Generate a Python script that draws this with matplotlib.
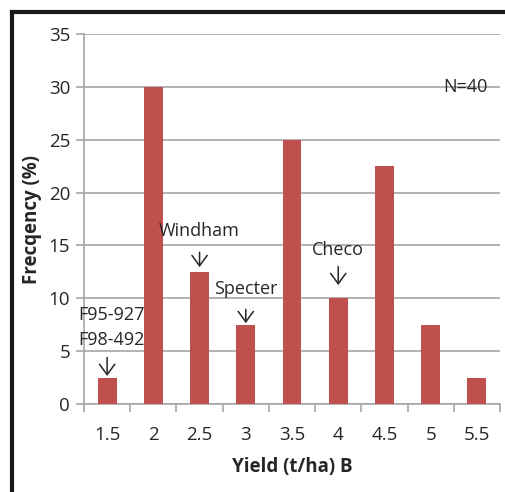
import matplotlib.pyplot as plt
from matplotlib.lines import Line2D

categories = ['1.5', '2', '2.5', '3', '3.5', '4', '4.5', '5', '5.5']
frequency = [2.5, 30, 12.5, 7.5, 25, 10, 22.5, 7.5, 2.5]

# cultivar labels placed above their bars
cultivar_bar = [0, 2, 3, 5]
cultivar_names = ['F95-927\nF98-492', 'Windham', 'Specter', 'Checo']

# label layout in data units: text centre, arrow top, arrow bottom
label_y = [7.25, 16.35, 10.9, 14.55]
arrow_top = [4.4, 14.35, 8.95, 13.0]
arrow_bot = [2.65, 12.95, 7.65, 11.25]
label_dx = [0.09, 0, 0, 0]

plt.rcParams['font.family'] = ['Open Sans', 'DejaVu Sans']
txt = '#262626'

fig = plt.figure(figsize=(5.06, 4.92), dpi=100)
ax = fig.add_axes([84 / 506, 1 - 404 / 492, 416 / 506, 370 / 492])

x = range(len(categories))
ax.bar(x, frequency, width=0.41, color='#C0504D', zorder=3)

ax.set_xlim(-0.5, len(categories) - 0.5)
ax.set_ylim(0, 35)
ax.set_yticks(range(0, 36, 5))
ax.set_xticks(list(x))
ax.set_xticklabels(categories)
ax.set_xticks([i - 0.5 for i in range(len(categories) + 1)], minor=True)

ax.grid(axis='y', color='#A6A6A6', linewidth=1.2, zorder=0)
for s in ['top', 'right']:
    ax.spines[s].set_visible(False)
for s in ['left', 'bottom']:
    ax.spines[s].set_color('#A6A6A6')
    ax.spines[s].set_linewidth(1.2)
ax.tick_params(axis='x', which='major', length=0, labelsize=13.5, pad=16, colors=txt)
ax.tick_params(axis='x', which='minor', length=6, width=1.2, color='#A6A6A6')
ax.tick_params(axis='y', length=6, width=1.2, color='#A6A6A6', labelsize=13.5,
               labelcolor=txt, pad=4)

ax.set_xlabel('Yield (t/ha) B', fontsize=13.5, fontweight='bold', color=txt, labelpad=9)
ax.set_ylabel('Frecqency (%)', fontsize=13.5, fontweight='bold', color=txt, labelpad=5)

for i, name, ty, a0, a1, dx in zip(cultivar_bar, cultivar_names, label_y,
                                    arrow_top, arrow_bot, label_dx):
    ax.annotate('', xy=(i, a1), xytext=(i, a0),
                arrowprops=dict(arrowstyle='->,head_length=0.75,head_width=0.55',
                                lw=1.1, color=txt, shrinkA=0, shrinkB=0))
    ax.text(i + dx, ty, name, ha='center', va='center', fontsize=13, color=txt,
            linespacing=1.45)

ax.text(7.75, 30, 'N=40', ha='center', va='center', fontsize=13, color=txt)

# black frame around the chart area
fig.add_artist(Line2D([12 / 506, 12 / 506], [0, 1 - 12 / 492], color='#1a1a1a',
                      linewidth=3, transform=fig.transFigure))
fig.add_artist(Line2D([12 / 506, 1], [1 - 12 / 492, 1 - 12 / 492], color='#1a1a1a',
                      linewidth=3, transform=fig.transFigure))

fig.savefig('out.png', dpi=100)
